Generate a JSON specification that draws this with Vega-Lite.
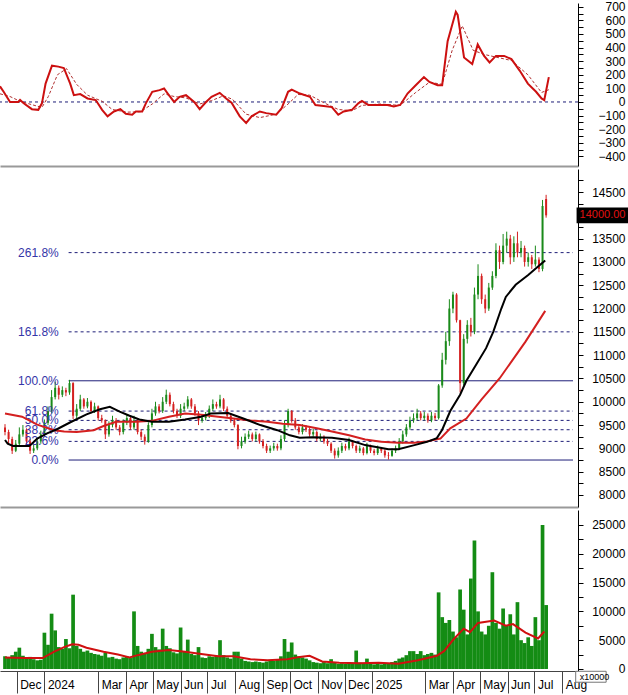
{
"$schema": "https://vega.github.io/schema/vega-lite/v6.json",
"padding": 0,
"background": "white",
"spacing": 3,
"config": {"view": {"stroke": null}, "font": "Liberation Sans", "axis": {"grid": false, "labelFont": "Liberation Sans"}},
"datasets": {
"candles": [
{"d":"2023-11-18","o":9450,"h":9520,"l":9280,"c":9350,"v":2200},
{"d":"2023-11-22","o":9350,"h":9400,"l":9100,"c":9200,"v":2000},
{"d":"2023-11-26","o":9200,"h":9250,"l":8880,"c":8950,"v":2400},
{"d":"2023-11-30","o":8950,"h":9180,"l":8920,"c":9100,"v":3000},
{"d":"2023-12-04","o":9100,"h":9450,"l":9050,"c":9300,"v":3700},
{"d":"2023-12-08","o":9300,"h":9500,"l":9250,"c":9400,"v":2300},
{"d":"2023-12-12","o":9400,"h":9430,"l":9100,"c":9150,"v":1900},
{"d":"2023-12-16","o":9150,"h":9200,"l":8880,"c":8950,"v":2100},
{"d":"2023-12-20","o":8950,"h":9080,"l":8900,"c":9000,"v":1700},
{"d":"2023-12-24","o":9000,"h":9220,"l":8960,"c":9150,"v":1500},
{"d":"2023-12-28","o":9150,"h":9380,"l":9100,"c":9300,"v":1600},
{"d":"2024-01-01","o":9300,"h":9620,"l":9260,"c":9550,"v":6300},
{"d":"2024-01-05","o":9550,"h":9900,"l":9500,"c":9800,"v":4200},
{"d":"2024-01-09","o":9800,"h":10250,"l":9750,"c":10100,"v":9600},
{"d":"2024-01-13","o":10100,"h":10430,"l":10050,"c":10300,"v":6700},
{"d":"2024-01-17","o":10300,"h":10350,"l":10050,"c":10150,"v":3800},
{"d":"2024-01-21","o":10150,"h":10330,"l":10100,"c":10250,"v":3500},
{"d":"2024-01-25","o":10250,"h":10300,"l":10120,"c":10200,"v":5200},
{"d":"2024-01-29","o":10200,"h":10470,"l":10150,"c":10400,"v":3600},
{"d":"2024-02-02","o":10400,"h":10420,"l":9630,"c":9700,"v":12900},
{"d":"2024-02-06","o":9700,"h":9950,"l":9650,"c":9850,"v":4000},
{"d":"2024-02-10","o":9850,"h":10150,"l":9800,"c":10050,"v":3500},
{"d":"2024-02-14","o":10050,"h":10080,"l":9850,"c":9900,"v":3000},
{"d":"2024-02-18","o":9900,"h":10080,"l":9860,"c":10000,"v":3200},
{"d":"2024-02-22","o":10000,"h":10030,"l":9750,"c":9800,"v":2800},
{"d":"2024-02-26","o":9800,"h":9980,"l":9760,"c":9900,"v":2600},
{"d":"2024-03-01","o":9900,"h":9920,"l":9600,"c":9650,"v":2500},
{"d":"2024-03-05","o":9650,"h":9720,"l":9550,"c":9600,"v":2300},
{"d":"2024-03-09","o":9600,"h":9620,"l":9200,"c":9300,"v":2800},
{"d":"2024-03-13","o":9300,"h":9580,"l":9250,"c":9500,"v":2000},
{"d":"2024-03-17","o":9500,"h":9700,"l":9450,"c":9600,"v":2100},
{"d":"2024-03-21","o":9600,"h":9650,"l":9400,"c":9450,"v":1800},
{"d":"2024-03-25","o":9450,"h":9500,"l":9280,"c":9350,"v":1700},
{"d":"2024-03-29","o":9350,"h":9620,"l":9300,"c":9550,"v":2000},
{"d":"2024-04-02","o":9550,"h":9720,"l":9500,"c":9650,"v":2200},
{"d":"2024-04-06","o":9650,"h":9680,"l":9400,"c":9450,"v":1900},
{"d":"2024-04-10","o":9450,"h":9700,"l":9400,"c":9600,"v":10000},
{"d":"2024-04-14","o":9600,"h":9620,"l":9300,"c":9350,"v":4000},
{"d":"2024-04-18","o":9350,"h":9400,"l":9180,"c":9250,"v":3000},
{"d":"2024-04-22","o":9250,"h":9300,"l":9080,"c":9150,"v":2800},
{"d":"2024-04-26","o":9150,"h":9560,"l":9120,"c":9500,"v":3500},
{"d":"2024-04-30","o":9500,"h":9850,"l":9450,"c":9750,"v":6100},
{"d":"2024-05-04","o":9750,"h":10000,"l":9700,"c":9900,"v":3800},
{"d":"2024-05-08","o":9900,"h":9950,"l":9750,"c":9800,"v":3400},
{"d":"2024-05-12","o":9800,"h":10100,"l":9760,"c":10000,"v":7000},
{"d":"2024-05-16","o":10000,"h":10260,"l":9950,"c":10150,"v":4000},
{"d":"2024-05-20","o":10150,"h":10200,"l":9900,"c":9950,"v":3600},
{"d":"2024-05-24","o":9950,"h":10000,"l":9750,"c":9800,"v":2900},
{"d":"2024-05-28","o":9800,"h":9850,"l":9650,"c":9700,"v":2700},
{"d":"2024-06-01","o":9700,"h":9950,"l":9650,"c":9850,"v":7200},
{"d":"2024-06-05","o":9850,"h":9980,"l":9800,"c":9900,"v":3000},
{"d":"2024-06-09","o":9900,"h":10120,"l":9850,"c":10050,"v":5100},
{"d":"2024-06-13","o":10050,"h":10080,"l":9850,"c":9900,"v":2600},
{"d":"2024-06-17","o":9900,"h":9950,"l":9700,"c":9750,"v":2400},
{"d":"2024-06-21","o":9750,"h":9800,"l":9500,"c":9600,"v":3800},
{"d":"2024-06-25","o":9600,"h":9720,"l":9550,"c":9650,"v":2000},
{"d":"2024-06-29","o":9650,"h":9780,"l":9600,"c":9700,"v":1900},
{"d":"2024-07-03","o":9700,"h":9920,"l":9650,"c":9850,"v":2200},
{"d":"2024-07-07","o":9850,"h":10050,"l":9800,"c":9950,"v":2100},
{"d":"2024-07-11","o":9950,"h":10000,"l":9850,"c":9900,"v":2300},
{"d":"2024-07-15","o":9900,"h":10150,"l":9860,"c":10050,"v":5000},
{"d":"2024-07-19","o":10050,"h":10080,"l":9800,"c":9850,"v":2400},
{"d":"2024-07-23","o":9850,"h":9900,"l":9650,"c":9700,"v":2000},
{"d":"2024-07-27","o":9700,"h":9750,"l":9550,"c":9600,"v":1800},
{"d":"2024-07-31","o":9600,"h":9650,"l":9450,"c":9500,"v":3000},
{"d":"2024-08-04","o":9500,"h":9520,"l":8980,"c":9050,"v":3000},
{"d":"2024-08-08","o":9050,"h":9250,"l":9000,"c":9150,"v":1800},
{"d":"2024-08-12","o":9150,"h":9320,"l":9100,"c":9250,"v":1400},
{"d":"2024-08-16","o":9250,"h":9380,"l":9200,"c":9300,"v":1300},
{"d":"2024-08-20","o":9300,"h":9340,"l":9150,"c":9200,"v":1200},
{"d":"2024-08-24","o":9200,"h":9360,"l":9150,"c":9300,"v":1300},
{"d":"2024-08-28","o":9300,"h":9320,"l":9100,"c":9150,"v":1200},
{"d":"2024-09-01","o":9150,"h":9200,"l":9000,"c":9050,"v":1100},
{"d":"2024-09-05","o":9050,"h":9100,"l":8900,"c":8950,"v":1300},
{"d":"2024-09-09","o":8950,"h":9060,"l":8900,"c":9000,"v":1500},
{"d":"2024-09-13","o":9000,"h":9120,"l":8950,"c":9050,"v":1400},
{"d":"2024-09-17","o":9050,"h":9100,"l":8950,"c":9000,"v":1600},
{"d":"2024-09-21","o":9000,"h":9280,"l":8960,"c":9200,"v":2200},
{"d":"2024-09-25","o":9200,"h":9600,"l":9150,"c":9500,"v":5200},
{"d":"2024-09-29","o":9500,"h":9850,"l":9450,"c":9800,"v":3000},
{"d":"2024-10-03","o":9800,"h":9820,"l":9550,"c":9600,"v":4600},
{"d":"2024-10-07","o":9600,"h":9650,"l":9400,"c":9450,"v":2500},
{"d":"2024-10-11","o":9450,"h":9500,"l":9300,"c":9350,"v":2200},
{"d":"2024-10-15","o":9350,"h":9520,"l":9300,"c":9450,"v":2000},
{"d":"2024-10-19","o":9450,"h":9500,"l":9350,"c":9400,"v":1800},
{"d":"2024-10-23","o":9400,"h":9450,"l":9250,"c":9300,"v":1500},
{"d":"2024-10-27","o":9300,"h":9420,"l":9250,"c":9350,"v":1200},
{"d":"2024-10-31","o":9350,"h":9380,"l":9150,"c":9200,"v":1100},
{"d":"2024-11-04","o":9200,"h":9320,"l":9150,"c":9250,"v":1000},
{"d":"2024-11-08","o":9250,"h":9280,"l":9100,"c":9150,"v":1200},
{"d":"2024-11-12","o":9150,"h":9200,"l":9050,"c":9100,"v":1000},
{"d":"2024-11-16","o":9100,"h":9130,"l":8900,"c":8950,"v":1700},
{"d":"2024-11-20","o":8950,"h":9000,"l":8780,"c":8850,"v":1100},
{"d":"2024-11-24","o":8850,"h":9020,"l":8800,"c":8950,"v":900},
{"d":"2024-11-28","o":8950,"h":9120,"l":8900,"c":9050,"v":1000},
{"d":"2024-12-02","o":9050,"h":9100,"l":8950,"c":9000,"v":900},
{"d":"2024-12-06","o":9000,"h":9230,"l":8960,"c":9150,"v":1200},
{"d":"2024-12-10","o":9150,"h":9180,"l":9000,"c":9050,"v":1000},
{"d":"2024-12-14","o":9050,"h":9080,"l":8900,"c":8950,"v":3200},
{"d":"2024-12-18","o":8950,"h":9060,"l":8900,"c":9000,"v":1100},
{"d":"2024-12-22","o":9000,"h":9030,"l":8850,"c":8900,"v":900},
{"d":"2024-12-26","o":8900,"h":9120,"l":8870,"c":9050,"v":1800},
{"d":"2024-12-30","o":9050,"h":9080,"l":8900,"c":8950,"v":1000},
{"d":"2025-01-03","o":8950,"h":8990,"l":8850,"c":8900,"v":800},
{"d":"2025-01-07","o":8900,"h":9060,"l":8860,"c":9000,"v":900},
{"d":"2025-01-11","o":9000,"h":9030,"l":8900,"c":8950,"v":800},
{"d":"2025-01-15","o":8950,"h":8980,"l":8800,"c":8850,"v":900},
{"d":"2025-01-19","o":8850,"h":8920,"l":8760,"c":8840,"v":1000},
{"d":"2025-01-23","o":8840,"h":9000,"l":8820,"c":8950,"v":1200},
{"d":"2025-01-27","o":8950,"h":9060,"l":8900,"c":9000,"v":1400},
{"d":"2025-01-31","o":9000,"h":9220,"l":8960,"c":9150,"v":1800},
{"d":"2025-02-04","o":9150,"h":9380,"l":9100,"c":9300,"v":2000},
{"d":"2025-02-08","o":9300,"h":9520,"l":9250,"c":9450,"v":2400},
{"d":"2025-02-12","o":9450,"h":9680,"l":9400,"c":9600,"v":3100},
{"d":"2025-02-16","o":9600,"h":9750,"l":9550,"c":9650,"v":3100},
{"d":"2025-02-20","o":9650,"h":9850,"l":9600,"c":9750,"v":2600},
{"d":"2025-02-24","o":9750,"h":9800,"l":9600,"c":9650,"v":3100},
{"d":"2025-02-28","o":9650,"h":9780,"l":9600,"c":9700,"v":2400},
{"d":"2025-03-04","o":9700,"h":9750,"l":9550,"c":9600,"v":2600},
{"d":"2025-03-08","o":9600,"h":9780,"l":9560,"c":9700,"v":2800},
{"d":"2025-03-12","o":9700,"h":9760,"l":9600,"c":9650,"v":2500},
{"d":"2025-03-16","o":9650,"h":10380,"l":9620,"c":10350,"v":13300},
{"d":"2025-03-20","o":10350,"h":11050,"l":10300,"c":10900,"v":9000},
{"d":"2025-03-24","o":10900,"h":11500,"l":10800,"c":11300,"v":8000},
{"d":"2025-03-28","o":11300,"h":12200,"l":11200,"c":12000,"v":8500},
{"d":"2025-04-01","o":12000,"h":12360,"l":11900,"c":12300,"v":6500},
{"d":"2025-04-05","o":12300,"h":12330,"l":11700,"c":11750,"v":5500},
{"d":"2025-04-09","o":11750,"h":11760,"l":10200,"c":10400,"v":13800},
{"d":"2025-04-13","o":10400,"h":11450,"l":10350,"c":11350,"v":10300},
{"d":"2025-04-17","o":11350,"h":11750,"l":11250,"c":11650,"v":6000},
{"d":"2025-04-21","o":11650,"h":11800,"l":11400,"c":11500,"v":15700},
{"d":"2025-04-25","o":11500,"h":12450,"l":11450,"c":12300,"v":22300},
{"d":"2025-04-29","o":12300,"h":12950,"l":12200,"c":12700,"v":10000},
{"d":"2025-05-03","o":12700,"h":12750,"l":12100,"c":12200,"v":6500},
{"d":"2025-05-07","o":12200,"h":12300,"l":11900,"c":12000,"v":6000},
{"d":"2025-05-11","o":12000,"h":12550,"l":11950,"c":12450,"v":7500},
{"d":"2025-05-15","o":12450,"h":12800,"l":12400,"c":12700,"v":16800},
{"d":"2025-05-19","o":12700,"h":13400,"l":12650,"c":13250,"v":8000},
{"d":"2025-05-23","o":13250,"h":13350,"l":12850,"c":13000,"v":7000},
{"d":"2025-05-27","o":13000,"h":13600,"l":12950,"c":13350,"v":10500},
{"d":"2025-05-31","o":13350,"h":13650,"l":13200,"c":13500,"v":7500},
{"d":"2025-06-04","o":13500,"h":13580,"l":12950,"c":13100,"v":9500},
{"d":"2025-06-08","o":13100,"h":13550,"l":13000,"c":13400,"v":6000},
{"d":"2025-06-12","o":13400,"h":13650,"l":13100,"c":13200,"v":11600},
{"d":"2025-06-16","o":13200,"h":13450,"l":13100,"c":13300,"v":5000},
{"d":"2025-06-20","o":13300,"h":13350,"l":12900,"c":13000,"v":4500},
{"d":"2025-06-24","o":13000,"h":13200,"l":12900,"c":13100,"v":5500},
{"d":"2025-06-28","o":13100,"h":13150,"l":12850,"c":12950,"v":4000},
{"d":"2025-07-02","o":12950,"h":13350,"l":12900,"c":13050,"v":9000},
{"d":"2025-07-06","o":13050,"h":13100,"l":12780,"c":12850,"v":5000},
{"d":"2025-07-10","o":12850,"h":14330,"l":12800,"c":14200,"v":25000},
{"d":"2025-07-14","o":14350,"h":14440,"l":13950,"c":14000,"v":11100}
],
"osc": [
{"d":"2023-11-18","v":115},{"d":"2023-11-22","v":75},{"d":"2023-11-29","v":0},{"d":"2023-12-08","v":0},{"d":"2023-12-10","v":15},{"d":"2023-12-14","v":-10},{"d":"2023-12-23","v":-53},{"d":"2023-12-30","v":-58},
{"d":"2024-01-03","v":-10},{"d":"2024-01-07","v":135},{"d":"2024-01-14","v":267},{"d":"2024-01-21","v":260},{"d":"2024-01-27","v":250},{"d":"2024-02-03","v":135},{"d":"2024-02-07","v":50},{"d":"2024-02-14","v":58},{"d":"2024-02-22","v":26},{"d":"2024-03-02","v":14},{"d":"2024-03-09","v":-58},{"d":"2024-03-15","v":-106},{"d":"2024-03-22","v":-70},{"d":"2024-03-29","v":-53},{"d":"2024-04-04","v":-87},{"d":"2024-04-11","v":-94},{"d":"2024-04-15","v":-70},{"d":"2024-04-22","v":-70},{"d":"2024-04-26","v":-10},{"d":"2024-05-03","v":75},{"d":"2024-05-11","v":87},{"d":"2024-05-16","v":99},{"d":"2024-05-20","v":62},{"d":"2024-05-27","v":0},{"d":"2024-06-02","v":38},{"d":"2024-06-09","v":50},{"d":"2024-06-18","v":0},{"d":"2024-06-24","v":-53},{"d":"2024-07-01","v":0},{"d":"2024-07-07","v":38},{"d":"2024-07-16","v":67},{"d":"2024-07-23","v":26},{"d":"2024-07-29","v":-5},{"d":"2024-08-07","v":-106},{"d":"2024-08-14","v":-154},{"d":"2024-08-20","v":-106},{"d":"2024-08-29","v":-70},{"d":"2024-09-05","v":-82},{"d":"2024-09-16","v":-94},{"d":"2024-09-22","v":-46},{"d":"2024-09-29","v":75},{"d":"2024-10-03","v":91},{"d":"2024-10-12","v":62},{"d":"2024-10-23","v":38},{"d":"2024-10-29","v":-22},{"d":"2024-11-07","v":-29},{"d":"2024-11-16","v":-38},{"d":"2024-11-23","v":-94},{"d":"2024-11-29","v":-70},{"d":"2024-12-08","v":-58},{"d":"2024-12-15","v":-10},{"d":"2024-12-19","v":7},{"d":"2024-12-26","v":-22},
{"d":"2025-01-08","v":-22},{"d":"2025-01-16","v":-22},{"d":"2025-01-23","v":-34},{"d":"2025-01-30","v":-22},{"d":"2025-02-07","v":62},{"d":"2025-02-16","v":123},{"d":"2025-02-25","v":183},{"d":"2025-03-03","v":147},{"d":"2025-03-12","v":123},{"d":"2025-03-17","v":123},{"d":"2025-03-23","v":447},{"d":"2025-04-01","v":663},{"d":"2025-04-03","v":640},{"d":"2025-04-10","v":327},{"d":"2025-04-19","v":279},{"d":"2025-04-25","v":423},{"d":"2025-05-02","v":339},{"d":"2025-05-08","v":291},{"d":"2025-05-15","v":339},{"d":"2025-05-24","v":339},{"d":"2025-06-01","v":315},{"d":"2025-06-10","v":231},{"d":"2025-06-19","v":135},{"d":"2025-06-28","v":75},{"d":"2025-07-04","v":26},{"d":"2025-07-07","v":14},{"d":"2025-07-12","v":183}
],
"sig": [
{"d":"2023-11-18","v":60},{"d":"2023-11-29","v":40},{"d":"2023-12-10","v":5},{"d":"2023-12-23","v":-20},{"d":"2024-01-03","v":-40},{"d":"2024-01-10","v":40},{"d":"2024-01-20","v":200},{"d":"2024-01-30","v":245},{"d":"2024-02-10","v":130},{"d":"2024-02-22","v":50},{"d":"2024-03-09","v":5},{"d":"2024-03-20","v":-55},{"d":"2024-04-05","v":-75},{"d":"2024-04-20","v":-72},{"d":"2024-05-03","v":-15},{"d":"2024-05-16","v":60},{"d":"2024-05-27","v":40},{"d":"2024-06-09","v":30},{"d":"2024-06-24","v":-15},{"d":"2024-07-07","v":10},{"d":"2024-07-20","v":45},{"d":"2024-07-30","v":20},{"d":"2024-08-14","v":-90},{"d":"2024-08-29","v":-115},{"d":"2024-09-16","v":-90},{"d":"2024-09-29","v":-15},{"d":"2024-10-10","v":55},{"d":"2024-10-23","v":50},{"d":"2024-11-07","v":-5},{"d":"2024-11-23","v":-55},{"d":"2024-12-08","v":-65},{"d":"2024-12-19","v":-25},{"d":"2025-01-08","v":-15},{"d":"2025-01-30","v":-25},{"d":"2025-02-16","v":70},{"d":"2025-03-03","v":145},{"d":"2025-03-17","v":130},{"d":"2025-03-28","v":380},{"d":"2025-04-08","v":560},{"d":"2025-04-20","v":380},{"d":"2025-05-02","v":350},{"d":"2025-05-15","v":330},{"d":"2025-06-01","v":305},{"d":"2025-06-19","v":200},{"d":"2025-07-04","v":70},{"d":"2025-07-12","v":90}
],
"ma1": [
{"d":"2023-11-18","v":9180},{"d":"2023-11-21","v":9100},{"d":"2023-11-27","v":9050},{"d":"2023-12-15","v":9050},{"d":"2023-12-18","v":9100},{"d":"2023-12-24","v":9210},{"d":"2024-01-04","v":9320},{"d":"2024-01-15","v":9410},{"d":"2024-01-30","v":9560},{"d":"2024-02-17","v":9730},{"d":"2024-03-03","v":9840},{"d":"2024-03-14","v":9890},{"d":"2024-03-25","v":9790},{"d":"2024-04-05","v":9700},{"d":"2024-04-16","v":9620},{"d":"2024-04-30","v":9570},{"d":"2024-05-19","v":9570},{"d":"2024-06-06","v":9620},{"d":"2024-06-24","v":9680},{"d":"2024-07-05","v":9750},{"d":"2024-07-24","v":9760},{"d":"2024-08-10","v":9640},{"d":"2024-08-29","v":9500},{"d":"2024-09-17","v":9390},{"d":"2024-10-01","v":9280},{"d":"2024-10-12","v":9230},{"d":"2024-10-26","v":9240},{"d":"2024-11-17","v":9230},{"d":"2024-12-06","v":9180},{"d":"2024-12-24","v":9070},{"d":"2025-01-19","v":8980},{"d":"2025-01-30","v":8980},{"d":"2025-02-17","v":9070},{"d":"2025-03-03","v":9140},{"d":"2025-03-14","v":9220},{"d":"2025-03-20","v":9400},{"d":"2025-03-29","v":9800},{"d":"2025-04-09","v":10150},{"d":"2025-04-16","v":10450},{"d":"2025-04-27","v":10800},{"d":"2025-05-08","v":11150},{"d":"2025-05-16","v":11500},{"d":"2025-05-25","v":12000},{"d":"2025-05-30","v":12250},{"d":"2025-06-10","v":12510},{"d":"2025-06-24","v":12720},{"d":"2025-07-05","v":12900},{"d":"2025-07-13","v":13030}
],
"ma2": [
{"d":"2023-11-18","v":9750},{"d":"2023-12-07","v":9680},{"d":"2023-12-24","v":9510},{"d":"2024-01-12","v":9390},{"d":"2024-01-23","v":9360},{"d":"2024-02-06","v":9350},{"d":"2024-02-25","v":9390},{"d":"2024-03-07","v":9480},{"d":"2024-03-21","v":9570},{"d":"2024-04-12","v":9570},{"d":"2024-04-30","v":9590},{"d":"2024-05-19","v":9680},{"d":"2024-06-06","v":9750},{"d":"2024-06-24","v":9720},{"d":"2024-07-13","v":9680},{"d":"2024-07-30","v":9640},{"d":"2024-08-18","v":9600},{"d":"2024-09-06","v":9570},{"d":"2024-09-23","v":9530},{"d":"2024-10-12","v":9500},{"d":"2024-10-31","v":9430},{"d":"2024-11-17","v":9360},{"d":"2024-12-06","v":9280},{"d":"2024-12-24","v":9190},{"d":"2025-01-11","v":9140},{"d":"2025-01-30","v":9120},{"d":"2025-02-17","v":9120},{"d":"2025-03-03","v":9150},{"d":"2025-03-18","v":9210},{"d":"2025-03-29","v":9430},{"d":"2025-04-16","v":9640},{"d":"2025-05-03","v":10050},{"d":"2025-05-23","v":10500},{"d":"2025-06-21","v":11290},{"d":"2025-07-13","v":11950}
],
"vma": [
{"d":"2023-11-18","v":2000},{"d":"2023-12-10","v":1900},{"d":"2023-12-30","v":1900},{"d":"2024-01-12","v":3000},{"d":"2024-01-23","v":3800},{"d":"2024-02-01","v":4300},{"d":"2024-02-08","v":4200},{"d":"2024-02-17","v":3700},{"d":"2024-03-07","v":3000},{"d":"2024-03-23","v":2500},{"d":"2024-04-05","v":2000},{"d":"2024-04-14","v":2400},{"d":"2024-04-30","v":3000},{"d":"2024-05-19","v":3300},{"d":"2024-06-06","v":3000},{"d":"2024-06-24","v":2600},{"d":"2024-07-13","v":2200},{"d":"2024-07-30","v":2200},{"d":"2024-08-18","v":1700},{"d":"2024-09-06","v":1500},{"d":"2024-09-28","v":1700},{"d":"2024-10-12","v":2100},{"d":"2024-10-23","v":2300},{"d":"2024-11-06","v":1300},{"d":"2024-11-25","v":1100},{"d":"2024-12-17","v":1000},{"d":"2025-01-08","v":1100},{"d":"2025-01-30","v":900},{"d":"2025-02-21","v":1500},{"d":"2025-03-14","v":2300},{"d":"2025-03-22","v":3100},{"d":"2025-04-02","v":5200},{"d":"2025-04-13","v":7000},{"d":"2025-04-20","v":6400},{"d":"2025-04-29","v":8000},{"d":"2025-05-17","v":8400},{"d":"2025-05-30","v":7500},{"d":"2025-06-07","v":7800},{"d":"2025-06-21","v":6300},{"d":"2025-07-05","v":5300},{"d":"2025-07-12","v":6500}
],
"fib": [
{"p":"261.8%","v":13200},{"p":"161.8%","v":11500},{"p":"100.0%","v":10450},{"p":"61.8%","v":9800},{"p":"50.0%","v":9600},{"p":"38.2%","v":9400},{"p":"23.6%","v":9150},{"p":"0.0%","v":8750}
]
},
"vconcat": [
{
"width": 578, "height": 163,
"layer": [
{"data": {"values": [{"v": 0}]},
 "mark": {"type": "rule", "color": "#1e1e78", "strokeDash": [3, 3], "strokeWidth": 1, "clip": true},
 "encoding": {
  "y": {"field": "v", "type": "quantitative", "scale": {"domain": [-471, 728], "nice": false, "zero": false},
   "axis": {"orient": "right", "title": null, "values": [-400,-350,-300,-250,-200,-150,-100,-50,0,50,100,150,200,250,300,350,400,450,500,550,600,650,700], "format": "d", "labelExpr": "datum.value % 100 == 0 ? datum.label : ''", "tickSize": 5, "labelPadding": 42, "labelAlign": "right", "labelFontSize": 12, "labelColor": "#000000", "domainColor": "#000000", "tickColor": "#000000", "labelFlush": false, "labelOverlap": false}}}},
{"data": {"name": "sig"},
 "mark": {"type": "line", "color": "#b03030", "strokeWidth": 1, "strokeDash": [3, 2], "clip": true},
 "encoding": {
  "x": {"field": "d", "type": "temporal", "scale": {"type": "utc", "domain": [{"year":2023,"month":11,"date":18,"utc":true},{"year":2025,"month":8,"date":13,"utc":true}]}, "axis": {"labels": false, "ticks": false, "title": null, "domainColor": "#999999", "domainWidth": 2}},
  "y": {"field": "v", "type": "quantitative", "scale": {"domain": [-471, 728], "nice": false, "zero": false},
   "axis": {"orient": "right", "title": null, "values": [-400,-350,-300,-250,-200,-150,-100,-50,0,50,100,150,200,250,300,350,400,450,500,550,600,650,700], "format": "d", "labelExpr": "datum.value % 100 == 0 ? datum.label : ''", "tickSize": 5, "labelPadding": 42, "labelAlign": "right", "labelFontSize": 12, "labelColor": "#000000", "domainColor": "#000000", "tickColor": "#000000", "labelFlush": false, "labelOverlap": false}}}},
{"data": {"name": "osc"},
 "mark": {"type": "line", "color": "#cc1010", "strokeWidth": 2, "clip": true},
 "encoding": {
  "x": {"field": "d", "type": "temporal", "scale": {"type": "utc", "domain": [{"year":2023,"month":11,"date":18,"utc":true},{"year":2025,"month":8,"date":13,"utc":true}]}, "axis": {"labels": false, "ticks": false, "title": null, "domainColor": "#999999", "domainWidth": 2}},
  "y": {"field": "v", "type": "quantitative", "scale": {"domain": [-471, 728], "nice": false, "zero": false},
   "axis": {"orient": "right", "title": null, "values": [-400,-350,-300,-250,-200,-150,-100,-50,0,50,100,150,200,250,300,350,400,450,500,550,600,650,700], "format": "d", "labelExpr": "datum.value % 100 == 0 ? datum.label : ''", "tickSize": 5, "labelPadding": 42, "labelAlign": "right", "labelFontSize": 12, "labelColor": "#000000", "domainColor": "#000000", "tickColor": "#000000", "labelFlush": false, "labelOverlap": false}}}}
]
},
{
"width": 578, "height": 338,
"encoding": {
 "y": {"type": "quantitative", "scale": {"domain": [7742, 14994], "nice": false, "zero": false},
  "axis": {"orient": "right", "title": null, "values": [8000,8250,8500,8750,9000,9250,9500,9750,10000,10250,10500,10750,11000,11250,11500,11750,12000,12250,12500,12750,13000,13250,13500,13750,14000,14250,14500,14750], "format": "d", "labelExpr": "datum.value % 500 == 0 && datum.value != 14000 ? datum.label : ''", "tickSize": 5, "labelPadding": 42, "labelAlign": "right", "labelFontSize": 12, "labelColor": "#000000", "domainColor": "#000000", "tickColor": "#000000", "labelFlush": false, "labelOverlap": false}},
 "x": {"type": "temporal", "scale": {"type": "utc", "domain": [{"year":2023,"month":11,"date":18,"utc":true},{"year":2025,"month":8,"date":13,"utc":true}]}, "axis": {"labels": false, "ticks": false, "title": null, "domainColor": "#999999", "domainWidth": 2}}
},
"layer": [
{"data": {"name": "fib"},
 "transform": [{"filter": "datum.p == '100.0%' || datum.p == '0.0%'"}],
 "mark": {"type": "rule", "color": "#1e1e78", "strokeWidth": 1},
 "encoding": {
  "x": {"datum": {"year":2024,"month":1,"date":28,"utc":true}},
  "x2": {"datum": {"year":2025,"month":8,"date":13,"utc":true}},
  "y": {"field": "v"}}},
{"data": {"name": "fib"},
 "transform": [{"filter": "datum.p != '100.0%' && datum.p != '0.0%'"}],
 "mark": {"type": "rule", "color": "#1e1e78", "strokeWidth": 1, "strokeDash": [3, 3]},
 "encoding": {
  "x": {"datum": {"year":2024,"month":1,"date":28,"utc":true}},
  "x2": {"datum": {"year":2025,"month":8,"date":13,"utc":true}},
  "y": {"field": "v"}}},
{"data": {"name": "candles"},
 "mark": {"type": "rule", "strokeWidth": 1, "clip": true},
 "encoding": {
  "x": {"field": "d"},
  "y": {"field": "l"},
  "y2": {"field": "h"},
  "color": {"condition": {"test": "datum.c >= datum.o", "value": "#1a8a1a"}, "value": "#d42020"}}},
{"data": {"name": "candles"},
 "mark": {"type": "bar", "size": 2, "clip": true},
 "encoding": {
  "x": {"field": "d"},
  "y": {"field": "o"},
  "y2": {"field": "c"},
  "color": {"condition": {"test": "datum.c >= datum.o", "value": "#1a8a1a"}, "value": "#d42020"}}},
{"data": {"name": "fib"},
 "mark": {"type": "text", "align": "right", "baseline": "middle", "fontSize": 12, "color": "#3535a8", "font": "Liberation Sans"},
 "encoding": {
  "x": {"datum": {"year":2024,"month":1,"date":17,"utc":true}},
  "y": {"field": "v"},
  "text": {"field": "p"}}},
{"data": {"name": "ma2"},
 "mark": {"type": "line", "color": "#d42020", "strokeWidth": 2, "clip": true},
 "encoding": {"x": {"field": "d"}, "y": {"field": "v"}}},
{"data": {"name": "ma1"},
 "mark": {"type": "line", "color": "#000000", "strokeWidth": 2, "clip": true},
 "encoding": {"x": {"field": "d"}, "y": {"field": "v"}}},
{"data": {"values": [{"p": 14000}]},
 "mark": {"type": "rect", "color": "#000000"},
 "encoding": {
  "x": {"datum": {"year":2025,"month":8,"date":17,"utc":true}},
  "x2": {"datum": {"year":2025,"month":10,"date":15,"utc":true}},
  "y": {"datum": 13830},
  "y2": {"datum": 14170}}},
{"data": {"values": [{"p": 14000}]},
 "mark": {"type": "text", "align": "left", "baseline": "middle", "dx": 3, "fontSize": 11, "color": "#e01010"},
 "encoding": {
  "x": {"datum": {"year":2025,"month":8,"date":17,"utc":true}},
  "y": {"field": "p"},
  "text": {"field": "p", "type": "quantitative", "format": ".2f"}}}
]
},
{
"width": 578, "height": 161,
"encoding": {
 "x": {"type": "temporal", "scale": {"type": "utc", "domain": [{"year":2023,"month":11,"date":18,"utc":true},{"year":2025,"month":8,"date":13,"utc":true}]},
  "axis": {"title": null, "values": [{"year":2023,"month":12,"date":1,"utc":true},{"year":2024,"month":1,"date":1,"utc":true},{"year":2024,"month":3,"date":1,"utc":true},{"year":2024,"month":4,"date":1,"utc":true},{"year":2024,"month":5,"date":1,"utc":true},{"year":2024,"month":6,"date":1,"utc":true},{"year":2024,"month":7,"date":1,"utc":true},{"year":2024,"month":8,"date":1,"utc":true},{"year":2024,"month":9,"date":1,"utc":true},{"year":2024,"month":10,"date":1,"utc":true},{"year":2024,"month":11,"date":1,"utc":true},{"year":2024,"month":12,"date":1,"utc":true},{"year":2025,"month":1,"date":1,"utc":true},{"year":2025,"month":3,"date":1,"utc":true},{"year":2025,"month":4,"date":1,"utc":true},{"year":2025,"month":5,"date":1,"utc":true},{"year":2025,"month":6,"date":1,"utc":true},{"year":2025,"month":7,"date":1,"utc":true},{"year":2025,"month":8,"date":1,"utc":true}],
   "labelExpr": "utcFormat(datum.value, '%m') == '01' ? utcFormat(datum.value, '%Y') : utcFormat(datum.value, '%b')",
   "labelAlign": "left", "labelBaseline": "top", "labelOffset": 3, "labelPadding": -14, "tickSize": 22, "tickColor": "#444444", "domainColor": "#444444", "labelFontSize": 12, "labelColor": "#000000", "labelOverlap": false, "labelFlush": false}},
 "y": {"type": "quantitative", "scale": {"domain": [-350, 27600], "nice": false, "zero": false},
  "axis": {"orient": "right", "title": null, "values": [0,2500,5000,7500,10000,12500,15000,17500,20000,22500,25000], "format": "d", "labelExpr": "datum.value % 5000 == 0 ? datum.label : ''", "tickSize": 5, "labelPadding": 42, "labelAlign": "right", "labelFontSize": 12, "labelColor": "#000000", "domainColor": "#000000", "tickColor": "#000000", "labelFlush": false, "labelOverlap": false}}
},
"layer": [
{"data": {"name": "candles"},
 "mark": {"type": "bar", "size": 3.7, "color": "#148c14", "clip": true},
 "encoding": {"x": {"field": "d"}, "y": {"field": "v"}}},
{"data": {"name": "vma"},
 "mark": {"type": "line", "color": "#d01010", "strokeWidth": 2, "clip": true},
 "encoding": {"x": {"field": "d"}, "y": {"field": "v"}}},
{"data": {"values": [{"t": "x10000"}]},
 "mark": {"type": "rect", "fill": "#ffffff", "stroke": "#777777", "strokeWidth": 1},
 "encoding": {
  "x": {"datum": {"year":2025,"month":8,"date":16,"utc":true}},
  "x2": {"datum": {"year":2025,"month":9,"date":19,"utc":true}},
  "y": {"datum": -400},
  "y2": {"datum": -2300}}},
{"data": {"values": [{"t": "x10000"}]},
 "mark": {"type": "text", "align": "left", "baseline": "middle", "dx": 4, "fontSize": 9, "color": "#000000"},
 "encoding": {
  "x": {"datum": {"year":2025,"month":8,"date":16,"utc":true}},
  "y": {"datum": -1350},
  "text": {"field": "t"}}}
]
}
]
}
